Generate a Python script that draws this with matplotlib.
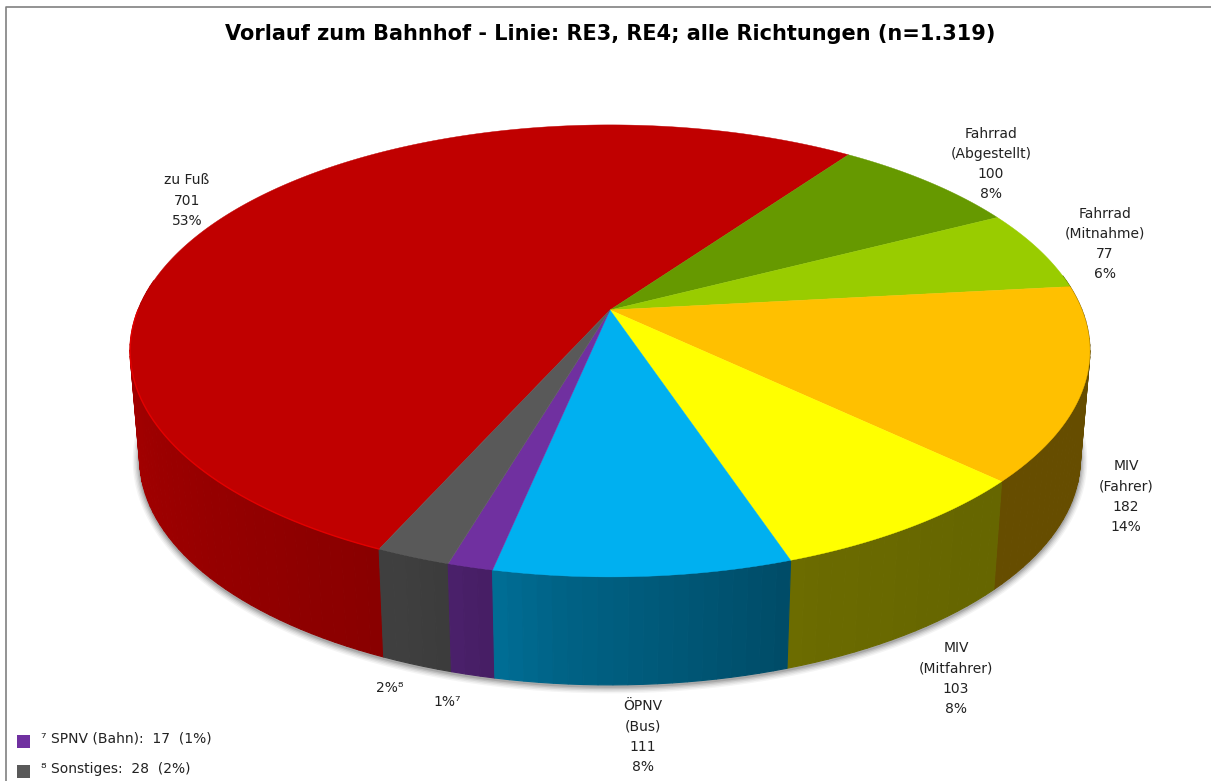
import numpy as np
import matplotlib
matplotlib.use("Agg")
import matplotlib.pyplot as plt
from matplotlib.patches import Rectangle
from matplotlib.colors import to_rgb

# ---- data ----
title = "Vorlauf zum Bahnhof - Linie: RE3, RE4; alle Richtungen (n=1.319)"
categories = ["zu Fuß", "Fahrrad\n(Abgestellt)", "Fahrrad\n(Mitnahme)", "MIV\n(Fahrer)",
              "MIV\n(Mitfahrer)", "ÖPNV\n(Bus)", "SPNV (Bahn)", "Sonstiges"]
values = [701, 100, 77, 182, 103, 111, 17, 28]
percents = [53, 8, 6, 14, 8, 8, 1, 2]
footnotes = ["", "", "", "", "", "", "⁷", "⁸"]

# ---- styles and layout (pixels) ----
colors = ["#C00000", "#669900", "#99CC00", "#FFC000", "#FFFF00", "#00B0F0", "#7030A0", "#595959"]
label_anchor = {0: (187, 180), 1: (991, 133), 2: (1105, 213), 3: (1126, 466),
                4: (956, 648), 5: (643, 706), 6: (447, 701), 7: (390, 687)}
FONT = ["DejaVu Sans"]
LINE = 20.2
FS = 10.0
TXT = "#222222"
CX, CY = 610.0, 310.0
A, B, K = 472.0, 218.6, 0.181
DEPTH, SHRINK = 108.0, 0.98
START = 245.9  # degrees, first slice runs clockwise from here

fig = plt.figure(figsize=(12.11, 7.81), dpi=100, facecolor="white")
ax = fig.add_axes([0, 0, 1, 1])
ax.set_xlim(0, 1211)
ax.set_ylim(781, 0)
ax.axis("off")

def rim(theta_deg):
    t = np.radians(theta_deg)
    u, v = np.cos(t), np.sin(t)
    w = 1 + K * v
    return CX + A * u / w, CY - B * v / w

def base(theta_deg):
    x, y = rim(theta_deg)
    return CX + SHRINK * (x - CX), y + DEPTH

def shade(theta_deg):
    a = np.mod(theta_deg, 360)
    return np.interp(a, [0, 140, 180, 215, 250, 265, 290, 310, 360],
                     [0.40, 0.90, 0.88, 0.80, 0.70, 0.56, 0.42, 0.40, 0.40])

# frame
ax.plot([5.5, 5.5, 1211], [781, 6.5, 6.5], color="#808080", lw=1.2, zorder=1)

# soft shadow along the lower edge and the lower part of both flanks
arc = np.linspace(180, 360, 300)
bx, by = base(arc)
rx0, ry0 = rim(180.0)
rx1, ry1 = rim(360.0)
sx = np.r_[(rx0 + bx[0]) / 2 + 3, bx, (rx1 + bx[-1]) / 2 - 3]
sy = np.r_[(ry0 + by[0]) / 2 + 25, by + 1.5, (ry1 + by[-1]) / 2 + 25]
for lw, al in [(10, 0.05), (8, 0.07), (6, 0.09), (4, 0.12), (2, 0.16)]:
    ax.plot(sx, sy, color="#303030", lw=lw, alpha=al, zorder=2, solid_capstyle="round")

vals = np.asarray(values, dtype=float)
sweeps = vals / vals.sum() * 360.0
ends = START - np.cumsum(sweeps)
starts = ends + sweeps

# side walls, drawn back to front so each strip overlaps the one behind it
strips = []
for s, e, c in zip(starts, ends, colors):
    base_rgb = np.array(to_rgb(c))
    th = np.linspace(s, e, max(int(abs(s - e) / 1.5), 2) + 1)
    for t0, t1 in zip(th[:-1], th[1:]):
        mid = (t0 + t1) / 2
        if np.sin(np.radians(mid)) > 0.15:
            continue
        strips.append((np.sin(np.radians(mid)), t0, t1, base_rgb * shade(mid)))
for _, t0, t1, col in sorted(strips, key=lambda r: -r[0]):
    tt = np.array([t0, t1])
    x0, y0 = rim(tt)
    x1, y1 = base(tt)
    ax.fill(np.r_[x0, x1[::-1]], np.r_[y0, y1[::-1]], facecolor=col, edgecolor=col, lw=0.8, zorder=3)

# tops
for s, e, c in zip(starts, ends, colors):
    th = np.linspace(s, e, max(int(abs(s - e) * 3), 3))
    x, y = rim(th)
    ax.fill(np.r_[CX, x], np.r_[CY, y], color=c, lw=0.3, zorder=4)

# light rim along the left front of the red slice
th = np.linspace(starts[0], 180, 200)
rx, ry = rim(th)
ax.plot(rx, ry, color="#E80000", lw=1.0, alpha=0.9, zorder=5)

# title
ax.text(610, 34, title, ha="center", va="center", fontsize=15.0, fontweight="bold",
        family=FONT, color="black", zorder=6)

# labels
for i, (x, y) in label_anchor.items():
    if footnotes[i]:
        ax.text(x, y + 0.5, f"{percents[i]}%{footnotes[i]}", ha="center", va="center",
                fontsize=FS, family=FONT, color=TXT, zorder=6)
        continue
    lines = categories[i].split("\n") + [str(values[i]), f"{percents[i]}%"]
    for j, line in enumerate(lines):
        ax.text(x, y + 0.5 + j * LINE, line, ha="center", va="center", fontsize=FS,
                family=FONT, color=TXT, zorder=6)

# legend for the small slices
for k, i in enumerate([6, 7]):
    yy = 741 + k * 30
    ax.add_patch(Rectangle((17, yy - 6.5), 12.5, 13, facecolor=colors[i], edgecolor="none", zorder=6))
    ax.text(41, yy - 2.5, f"{footnotes[i]} {categories[i]}:  {values[i]}  ({percents[i]}%)",
            ha="left", va="center", fontsize=FS, family=FONT, color=TXT, zorder=6)

fig.savefig("out.png", dpi=100, facecolor="white")
